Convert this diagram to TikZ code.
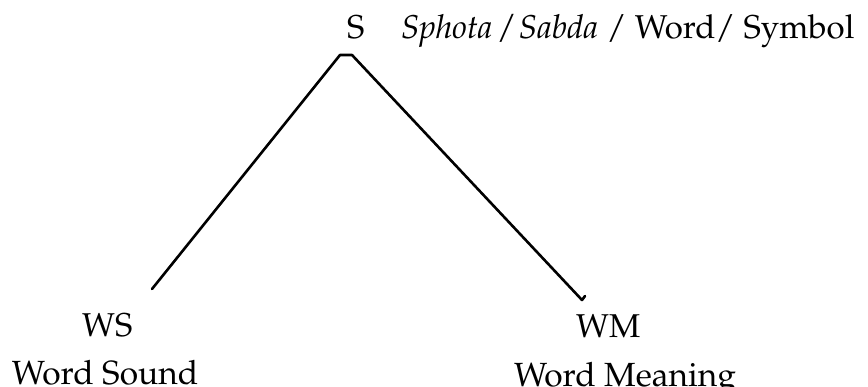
\documentclass[tikz,border=0pt]{standalone}
\usepackage[T1]{fontenc}
\usepackage{mathpazo}
\tikzset{
  lbl/.style={inner sep=0pt, outer sep=0pt, anchor=base west, font=\fontsize{33}{38}\selectfont},
  sub/.style={inner sep=0pt, outer sep=0pt, anchor=base west, font=\fontsize{33.5}{38}\selectfont},
  branch/.style={line width=2.6pt, line join=round, line cap=round}
}
\begin{document}
\begin{tikzpicture}[x=1pt,y=-1pt]
\useasboundingbox (0,0) rectangle (868,386);
\node[lbl] (S) at (347,38) {S};
\node[lbl] (title) at (401,38) {\textit{Sphota / Sabda} / Word/ Symbol};
\node[lbl] (WS) at (82,336) {WS};
\node[lbl] (WM) at (576,337) {WM};
\node[sub] (wsname) at (12,384) {Word Sound};
\node[sub] (wmname) at (514,386) {Word Meaning};
\coordinate (apexL) at (340,55);
\coordinate (apexR) at (352,55);
\coordinate (wsend) at (152,289);
\coordinate (wmend) at (582,300);
\coordinate (wmhook) at (585,296);
\draw[branch] (wsend) -- (apexL) -- (apexR) -- (wmend) -- (wmhook);
\end{tikzpicture}
\end{document}
